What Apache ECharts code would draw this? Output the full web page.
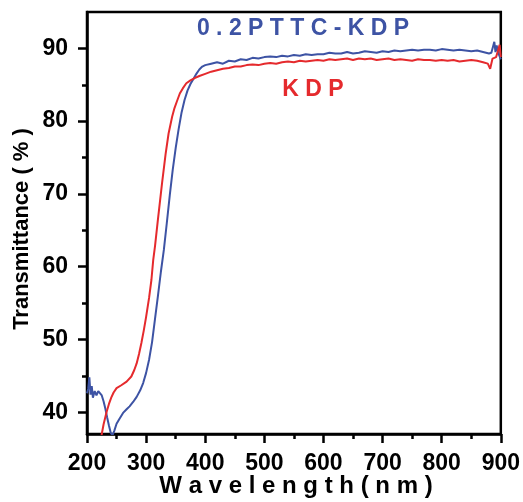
<!DOCTYPE html>
<html>
<head>
<meta charset="utf-8">
<script src="https://cdn.jsdelivr.net/npm/echarts@6/dist/echarts.min.js"></script>
<style>html,body{margin:0;padding:0;background:#fff}#c{width:523px;height:502px}</style>
</head>
<body>
<div id="c"></div>
<script>
// ---- data ----
const blueName = '0.2PTTC-KDP';
const redName = 'KDP';
const blueWl = [200,202,204,206,208,210,213,216,219,222,225,228,231,234,237,240,243,246,250,255,261,267,272,278,284,290,295,300,305,310,315,320,325,330,335,340,345,350,355,360,365,370,375,380,385,390,395,400,410,420,430,440,450,460,470,480,490,500,510,520,530,540,550,560,570,580,590,600,610,620,630,640,650,660,670,680,690,700,710,720,730,740,750,760,770,780,790,800,810,820,830,840,850,860,870,875,880,884,887,889,891,893,896,900];
const blueT  = [42.6,43.2,44.8,42.4,43.6,42.0,42.9,42.3,42.9,42.7,42.3,41.5,40.5,39.3,38.2,37.2,36.8,37.4,38.4,39.1,39.9,40.4,40.8,41.4,42.1,43.0,44.0,45.4,47.2,49.6,52.8,56.0,59.3,62.3,66.0,69.8,73.3,76.3,78.9,81.2,82.9,84.2,85.1,85.8,86.5,87.1,87.5,87.7,87.9,88.1,87.9,88.3,88.2,88.5,88.4,88.7,88.6,88.8,88.9,88.8,89.0,88.9,89.1,89.0,89.2,89.1,89.2,89.2,89.4,89.3,89.3,89.5,89.3,89.4,89.6,89.5,89.4,89.6,89.5,89.7,89.6,89.7,89.8,89.7,89.8,89.8,89.7,89.9,89.8,89.7,89.8,89.7,89.6,89.7,89.5,89.4,89.3,89.4,90.3,90.9,89.5,90.4,89.3,88.5];
const redWl = [222,225,228,233,237,241,245,250,258,267,275,280,284,288,292,296,300,305,309,312,315,320,327,333,338,344,348,352,357,362,368,375,382,390,400,410,420,430,440,450,460,470,480,490,500,510,520,530,540,550,560,570,580,590,600,610,620,630,640,650,660,670,680,690,700,710,720,730,740,750,760,770,780,790,800,810,820,830,840,850,860,870,878,882,886,892,895,898,900];
const redT  = [35.5,37.0,38.3,40.0,41.1,42.0,42.7,43.3,43.7,44.2,44.9,45.8,46.7,48.0,49.5,51.2,53.1,55.7,58.2,60.9,62.8,66.5,71.5,75.5,78.3,80.6,81.8,82.7,83.8,84.5,85.2,85.6,85.9,86.2,86.5,86.8,87.0,87.2,87.3,87.5,87.5,87.7,87.8,87.7,87.9,88.0,87.9,88.1,88.2,88.1,88.3,88.2,88.3,88.4,88.3,88.5,88.4,88.5,88.6,88.4,88.6,88.5,88.6,88.4,88.5,88.6,88.4,88.5,88.4,88.3,88.5,88.4,88.4,88.3,88.4,88.3,88.4,88.2,88.3,88.4,88.3,88.1,87.9,87.2,88.6,88.8,89.6,90.5,88.8];
const xTicks = [200,300,400,500,600,700,800,900];
const yMajor = [40,50,60,70,80,90];
const yMinor = [45,55,65,75,85];
// ---------------------------------------------------

const FONT = '"Liberation Sans", Arial, Helvetica, sans-serif';
const BLUE = '#3d53a4';
const RED = '#e52a2d';
const zip = (xs, ys) => xs.map((x, i) => [x, ys[i]]);

const chart = echarts.init(document.getElementById('c'), null, {renderer: 'canvas'});
chart.setOption({
  animation: false,
  backgroundColor: '#fff',
  grid: {left: 87, right: 20, top: 12, bottom: 68, show: true, borderColor: '#000', borderWidth: 2.5, backgroundColor: 'transparent'},
  xAxis: {
    type: 'value', min: xTicks[0], max: xTicks[xTicks.length - 1], interval: 100,
    axisLine: {show: true, onZero: false, lineStyle: {color: '#000', width: 2.5}},
    axisTick: {show: true, inside: false, length: 9, lineStyle: {color: '#000', width: 2.5}},
    minorTick: {show: true, splitNumber: 2, length: 5, lineStyle: {color: '#000', width: 2.5}},
    splitLine: {show: false},
    axisLabel: {color: '#000', fontFamily: FONT, fontWeight: 'bold', fontSize: 23, margin: 18}
  },
  yAxis: [{
    type: 'value', min: 37, max: 95,
    axisLine: {show: true, onZero: false, lineStyle: {color: '#000', width: 2.5}},
    axisTick: {show: true, inside: false, length: 9, customValues: yMajor, lineStyle: {color: '#000', width: 2.5}},
    splitLine: {show: false},
    axisLabel: {show: false}
  }, {
    type: 'value', min: 37, max: 95, position: 'left',
    axisLine: {show: false},
    axisTick: {show: true, inside: false, length: 5, customValues: yMinor, lineStyle: {color: '#000', width: 2.5}},
    axisLabel: {show: false},
    splitLine: {show: false}
  }, {
    type: 'value', min: 37, max: 95, position: 'left', offset: 11,
    axisLine: {show: false},
    axisTick: {show: false},
    splitLine: {show: false},
    axisLabel: {color: '#000', fontFamily: FONT, fontWeight: 'bold', fontSize: 23, margin: 8, customValues: yMajor}
  }],
  series: [{
    name: redName, type: 'line', data: zip(redWl, redT), showSymbol: false, symbol: 'none',
    lineStyle: {color: RED, width: 2}, clip: true, z: 3
  }, {
    name: blueName, type: 'line', data: zip(blueWl, blueT), showSymbol: false, symbol: 'none',
    lineStyle: {color: BLUE, width: 2}, clip: true, z: 2
  }],
  graphic: [
    {type: 'text', x: 303, y: 29, style: {text: '0 . 2 P T T C - K D P', fill: BLUE, font: 'bold 23px ' + FONT, textAlign: 'center', textVerticalAlign: 'middle'}},
    {type: 'text', x: 313, y: 90, style: {text: 'K D P', fill: RED, font: 'bold 23px ' + FONT, textAlign: 'center', textVerticalAlign: 'middle'}},
    {type: 'text', x: 296, y: 486, style: {text: 'W a v e l e n g t h ( n m )', fill: '#000', font: 'bold 24px ' + FONT, textAlign: 'center', textVerticalAlign: 'middle'}},
    {type: 'text', x: 22, y: 229, rotation: Math.PI / 2, style: {text: 'Transmittance ( % )', fill: '#000', font: 'bold 22px ' + FONT, textAlign: 'center', textVerticalAlign: 'middle'}}
  ]
});
</script>
</body>
</html>
